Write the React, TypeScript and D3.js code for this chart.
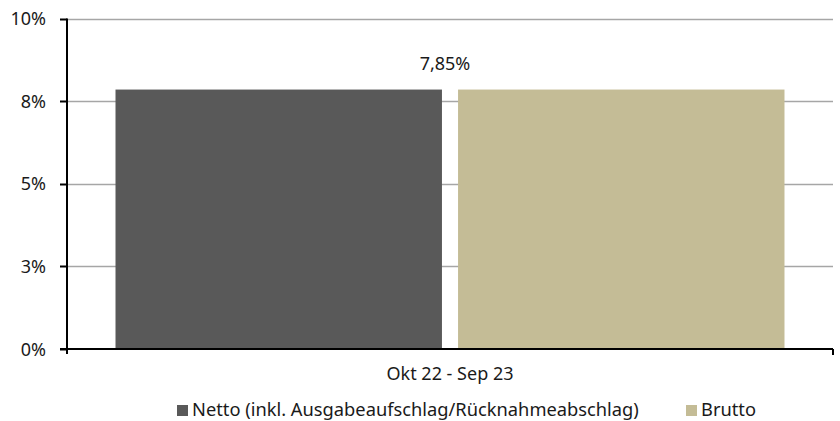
import React, { useEffect, useRef } from 'react';
import * as d3 from 'd3';

const categories = ['Okt 22 - Sep 23'];
const seriesNames = ['Netto (inkl. Ausgabeaufschlag/Rücknahmeabschlag)', 'Brutto'];
const nettoValues = [0.0785];
const bruttoValues = [0.0785];
const tickValues = [0, 0.025, 0.05, 0.075, 0.1];
const tickLabels = ['0%', '3%', '5%', '8%', '10%'];
const dataLabels = ['7,85%'];

const colors = ['#595959', '#c4bc96'];
const FONT = '"Noto Sans", "Liberation Sans", sans-serif';

const App = () => {
    const chartRef = useRef<SVGSVGElement>(null);

    useEffect(() => {
        drawChart();
    }, []);

    const drawChart = () => {
        const svg = d3.select(chartRef.current);
        svg.selectAll('*').remove();

        const left = 67;
        const right = 833;
        const top = 18.5;
        const bottom = 349;

        const y = d3.scaleLinear().domain([0, 0.1]).range([bottom, top]);

        const x0 = d3.scaleBand()
            .domain(categories)
            .range([left, right])
            .paddingInner(0)
            .paddingOuter(0.0725);

        const x1 = d3.scaleBand()
            .domain(seriesNames)
            .range([0, x0.bandwidth()])
            .paddingInner(0.047);

        // gridlines
        svg.append('g')
            .selectAll('line')
            .data(tickValues.slice(1))
            .enter().append('line')
            .attr('x1', left)
            .attr('x2', right)
            .attr('y1', d => Math.round(y(d)) + 0.5)
            .attr('y2', d => Math.round(y(d)) + 0.5)
            .attr('stroke', '#a6a6a6')
            .attr('stroke-width', 1.3);

        // bars
        const rows = categories.map((c, i) => ({ cat: c, vals: [nettoValues[i], bruttoValues[i]] }));
        const groups = svg.append('g')
            .selectAll('g')
            .data(rows)
            .enter().append('g')
            .attr('transform', d => `translate(${x0(d.cat)},0)`);

        groups.selectAll('rect')
            .data(d => d.vals.map((v, j) => ({ name: seriesNames[j], v, j })))
            .enter().append('rect')
            .attr('x', d => x1(d.name)!)
            .attr('width', x1.bandwidth())
            .attr('y', d => y(d.v))
            .attr('height', d => bottom - y(d.v))
            .attr('fill', d => colors[d.j]);

        // data label
        svg.append('g')
            .selectAll('text')
            .data(rows)
            .enter().append('text')
            .attr('x', d => x0(d.cat)! + x0.bandwidth() / 2 - 5)
            .attr('y', d => y(d.vals[0]) - 20)
            .attr('text-anchor', 'middle')
            .attr('font-family', FONT)
            .attr('font-size', 18)
            .attr('fill', '#1a1a1a')
            .text((d, i) => dataLabels[i]);

        // y axis
        const yAxis = svg.append('g');
        yAxis.append('line')
            .attr('x1', left).attr('x2', left)
            .attr('y1', top).attr('y2', bottom + 5)
            .attr('stroke', '#000').attr('stroke-width', 2);
        yAxis.selectAll('.tick')
            .data(tickValues)
            .enter().append('line')
            .attr('x1', left - 7).attr('x2', left)
            .attr('y1', d => Math.round(y(d)) + 0.5)
            .attr('y2', d => Math.round(y(d)) + 0.5)
            .attr('stroke', '#000').attr('stroke-width', 2);
        yAxis.selectAll('text')
            .data(tickValues)
            .enter().append('text')
            .attr('x', 46)
            .attr('y', d => y(d) + 6.5)
            .attr('text-anchor', 'end')
            .attr('font-family', FONT)
            .attr('font-size', 18)
            .attr('fill', '#1a1a1a')
            .text((d, i) => tickLabels[i]);

        // x axis
        const xAxis = svg.append('g');
        xAxis.append('line')
            .attr('x1', left - 7).attr('x2', right)
            .attr('y1', bottom).attr('y2', bottom)
            .attr('stroke', '#000').attr('stroke-width', 2);
        xAxis.append('line')
            .attr('x1', right).attr('x2', right)
            .attr('y1', bottom).attr('y2', bottom + 6)
            .attr('stroke', '#000').attr('stroke-width', 2);
        xAxis.selectAll('text')
            .data(categories)
            .enter().append('text')
            .attr('x', d => x0(d)! + x0.bandwidth() / 2)
            .attr('y', 380)
            .attr('text-anchor', 'middle')
            .attr('font-family', FONT)
            .attr('font-size', 18)
            .attr('fill', '#1a1a1a')
            .text(d => d);

        // legend
        const legendX = [177, 686];
        const legend = svg.append('g')
            .selectAll('g')
            .data(seriesNames)
            .enter().append('g')
            .attr('transform', (d, i) => `translate(${legendX[i]},0)`);
        legend.append('rect')
            .attr('x', 0).attr('y', 405)
            .attr('width', 11).attr('height', 11)
            .attr('fill', (d, i) => colors[i]);
        legend.append('text')
            .attr('x', 15).attr('y', 416)
            .attr('font-family', FONT)
            .attr('font-size', 18.3)
            .attr('fill', '#1a1a1a')
            .text(d => d);
    };

    return (
        <svg
            ref={chartRef}
            width={840}
            height={421}
            style={{ position: 'absolute', left: 0, top: 0, background: '#fff' }}
        />
    );
};

export default App;
